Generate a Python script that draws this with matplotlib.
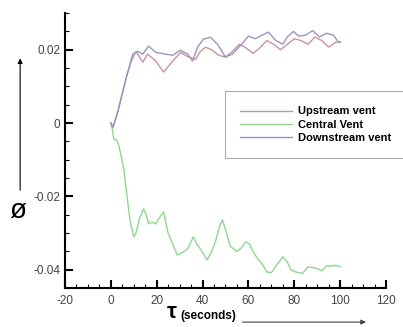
import matplotlib
matplotlib.use('Agg')
from matplotlib import pyplot as plt
from matplotlib.ticker import MultipleLocator

plt.rcParams['font.family'] = ['Liberation Sans', 'DejaVu Sans']
plt.rcParams['axes.unicode_minus'] = False

# Upstream vent
t_up = [0, 1, 3, 5, 7, 9, 11, 14, 16, 19.5, 23, 27, 30.5, 33, 37, 39, 41.3, 44,
        47, 50, 53, 56, 59, 62, 65, 68, 71, 74, 77, 80, 83, 86, 89, 92, 95, 98, 100]
phi_up = [0, -0.001, 0.003, 0.008, 0.013, 0.017, 0.0195, 0.0166, 0.0188, 0.017,
          0.0139, 0.0169, 0.0193, 0.0183, 0.0174, 0.0195, 0.0207, 0.0200, 0.0185,
          0.0180, 0.0195, 0.0215, 0.0205, 0.0190, 0.0205, 0.0225, 0.0215, 0.0200,
          0.0215, 0.0230, 0.0225, 0.0215, 0.0235, 0.0225, 0.0207, 0.0220, 0.0222]

# Central vent
t_cen = [0, 0.8, 1.3, 2.5, 3.5, 4.5, 5.7, 6.5, 7.4, 8.5, 10, 11, 12.5, 14.3, 15.5,
         16.5, 18, 19.5, 21, 23, 25, 27, 29, 30.5, 32, 33.5, 36, 37.5, 39, 42, 44,
         45.6, 47.5, 48.7, 50, 52, 55, 57, 58.7, 60.5, 62, 64, 66, 68, 70, 72, 75,
         77, 78.5, 80.5, 83.5, 86, 88, 90, 92, 94, 96, 98, 100]
phi_cen = [0, -0.002, -0.0044, -0.0046, -0.006, -0.009, -0.0125, -0.017, -0.0215,
           -0.027, -0.031, -0.030, -0.026, -0.0234, -0.025, -0.0275, -0.027,
           -0.0275, -0.026, -0.0242, -0.030, -0.033, -0.036, -0.0355, -0.035,
           -0.0343, -0.031, -0.033, -0.0343, -0.0373, -0.035, -0.0324, -0.028,
           -0.0264, -0.029, -0.0335, -0.035, -0.034, -0.0324, -0.033, -0.035,
           -0.037, -0.0384, -0.0406, -0.0408, -0.039, -0.0365, -0.038, -0.040,
           -0.0406, -0.041, -0.0392, -0.0394, -0.0397, -0.0403, -0.039, -0.039,
           -0.0388, -0.0392]

# Downstream vent
t_down = [0, 1, 3, 5, 7, 9.6, 11.7, 13.9, 16.5, 19.6, 23.9, 27, 30.4, 33.5, 35.7,
          37.8, 40.4, 43.5, 46.5, 50, 53, 57, 60, 63, 66, 68.7, 72, 75, 77, 79.6,
          82, 85, 88, 91, 94, 97, 99, 100]
phi_down = [0, -0.0012, 0.003, 0.008, 0.013, 0.0188, 0.0196, 0.0188, 0.021, 0.0193,
            0.0188, 0.0185, 0.0199, 0.0188, 0.0169, 0.0207, 0.0229, 0.0234, 0.0215,
            0.0180, 0.0188, 0.0215, 0.0237, 0.0230, 0.0240, 0.0248, 0.0225, 0.0215,
            0.0235, 0.0250, 0.0237, 0.0240, 0.0252, 0.0235, 0.0245, 0.0240, 0.0223,
            0.0220]

fig = plt.figure(figsize=(4.03, 3.27), dpi=100)
ax = fig.add_axes([0.161, 0.119, 0.797, 0.841])

kw = dict(lw=1.0, solid_joinstyle='round')
ax.plot(t_up, phi_up, color='#c8949c', label='Upstream vent', **kw)
ax.plot(t_cen, phi_cen, color='#8fd68f', label='Central Vent', **kw)
ax.plot(t_down, phi_down, color='#9c94c4', label='Downstream vent', **kw)

ax.set_xlim(-20, 120)
ax.set_ylim(-0.045, 0.030)
ax.set_xticks([-20, 0, 20, 40, 60, 80, 100, 120])
ax.set_yticks([-0.04, -0.02, 0, 0.02])
ax.set_yticklabels(['-0.04', '-0.02', '0', '0.02'])
ax.xaxis.set_minor_locator(MultipleLocator(5))
ax.yaxis.set_minor_locator(MultipleLocator(0.005))
ax.tick_params(which='major', direction='in', length=6, width=1.5,
               labelsize=8.5, labelcolor='#444444')
ax.tick_params(which='minor', direction='in', length=3, width=0.8)
ax.tick_params(axis='x', pad=5)
for s in ['top', 'right']:
    ax.spines[s].set_visible(False)
for s in ['left', 'bottom']:
    ax.spines[s].set_linewidth(1.5)

leg = ax.legend(loc='upper left', bbox_to_anchor=(0.5, 0.715), fancybox=False,
                edgecolor='#999999', prop={'weight': 'bold', 'size': 8},
                handlelength=4.6, handletextpad=0.6, borderpad=1.35,
                labelspacing=0.3, borderaxespad=0)
leg.get_frame().set_linewidth(0.8)

# axis labels with arrows
fig.text(0.045, 0.355, 'ø', fontsize=20, ha='center', va='center')
fig.text(0.425, 0.045, 'τ', fontsize=16, ha='center', va='center', fontweight='bold')
fig.text(0.447, 0.033, '(seconds)', fontsize=8.5, ha='left', va='center',
         fontweight='bold')
fig.add_artist(plt.Annotation('', xy=(0.05, 0.83), xytext=(0.05, 0.41),
                              xycoords='figure fraction',
                              arrowprops=dict(arrowstyle='-|>', lw=0.8,
                                              color='black', mutation_scale=7)))
fig.add_artist(plt.Annotation('', xy=(0.915, 0.015), xytext=(0.595, 0.015),
                              xycoords='figure fraction',
                              arrowprops=dict(arrowstyle='-|>', lw=0.8,
                                              color='#444444', mutation_scale=7)))

fig.savefig('out.png', dpi=100)
